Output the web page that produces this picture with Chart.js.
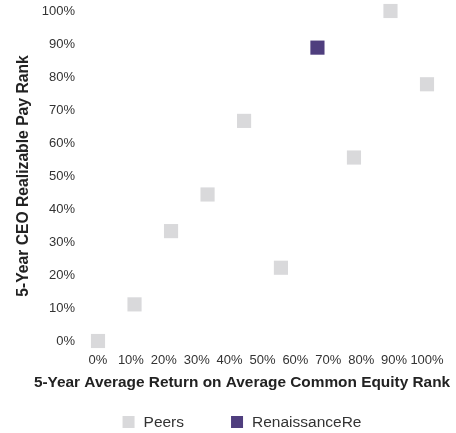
<!DOCTYPE html>
<html>
<head>
<meta charset="utf-8">
<script src="https://cdn.jsdelivr.net/npm/chart.js@4"></script>
<style>
  html, body { margin: 0; padding: 0; background: #fff; }
  #caja { width: 456px; height: 433px; }
</style>
</head>
<body>
<div id="caja"><canvas id="grafico"></canvas></div>
<script>
// rangos en % (retorno sobre capital vs. pago realizable del CEO)
const peersX = [0, 11.1, 22.2, 33.3, 44.4, 55.6, 77.8, 88.9, 100]
const peersY = [0, 11.1, 33.3, 44.4, 66.7, 22.2, 55.6, 100, 77.8]
const renreX = [66.7]
const renreY = [88.9]
const ticksPct = [0, 10, 20, 30, 40, 50, 60, 70, 80, 90, 100]
const tituloX = '5-Year Average Return on Average Common Equity Rank'
const tituloY = '5-Year CEO Realizable Pay Rank'

const gris = '#d9d9db'
const morado = '#4f3e7e'
const fuente = "'Liberation Sans', Arial, Helvetica, sans-serif"

Chart.defaults.font.family = fuente
Chart.defaults.color = '#333'

const puntos = (xs, ys) => xs.map((x, i) => ({ x: x, y: ys[i] }))

// el centro del titulo X y de la leyenda (no coincide con el del area)
const centroAbajo = 242

// titulo del eje X a ancho completo (el de Chart.js se comprime al ancho del area)
const tituloAbajo = {
    id: 'tituloAbajo',
    afterDraw(chart) {
        const ctx = chart.ctx
        ctx.save()
        ctx.font = "bold 15.4px " + fuente
        ctx.fillStyle = '#222'
        ctx.textAlign = 'center'
        ctx.textBaseline = 'middle'
        ctx.fillText(tituloX, centroAbajo, chart.height - 50)
        ctx.restore()
    }
}

// leyenda con cuadros, a partir de los datasets
const leyenda = {
    id: 'leyenda',
    afterDraw(chart) {
        const ctx = chart.ctx
        const caja = 12, hueco = 9, separa = 47
        const y = chart.height - 11
        ctx.save()
        ctx.font = "15.5px " + fuente
        ctx.textBaseline = 'middle'
        let items = chart.data.datasets.map(d => ({ texto: d.label, color: d.backgroundColor, ancho: ctx.measureText(d.label).width }))
        let total = items.reduce((s, it) => s + caja + hueco + it.ancho, 0) + separa * (items.length - 1)
        let x = centroAbajo - total / 2
        items.forEach(it => {
            ctx.fillStyle = it.color
            ctx.fillRect(x, y - caja / 2, caja, caja)
            ctx.fillStyle = '#333'
            ctx.fillText(it.texto, x + caja + hueco, y + 1)
            x += caja + hueco + it.ancho + separa
        })
        ctx.restore()
    }
}

let grafico = document.getElementById("grafico")

let miGrafico = new Chart(grafico, {
    type: 'scatter',
    data: {
        datasets: [{
            label: 'Peers',
            data: puntos(peersX, peersY),
            pointStyle: 'rect',
            pointRadius: 10,
            pointHoverRadius: 10,
            backgroundColor: gris,
            borderColor: gris,
            borderWidth: 0,
            clip: false
        }, {
            label: 'RenaissanceRe',
            data: puntos(renreX, renreY),
            pointStyle: 'rect',
            pointRadius: 10,
            pointHoverRadius: 10,
            backgroundColor: morado,
            borderColor: morado,
            borderWidth: 0,
            clip: false
        }]
    },
    plugins: [tituloAbajo, leyenda],
    options: {
        responsive: true,
        maintainAspectRatio: false,
        animation: false,
        layout: { autoPadding: false, padding: { top: 3, right: 12, bottom: 66, left: 14 } },
        plugins: {
            tooltip: { enabled: false },
            legend: { display: false }
        },
        scales: {
            x: {
                type: 'linear',
                min: 0,
                max: 100,
                grid: { display: false, drawTicks: false },
                border: { display: false },
                afterBuildTicks: (eje) => { eje.ticks = ticksPct.map(v => ({ value: v })) },
                // alto fijo del eje y margen derecho para la etiqueta 100%
                afterFit: (eje) => { eje.height = 26; eje.paddingLeft = 8; eje.paddingRight = 29 },
                ticks: {
                    padding: 12,
                    maxRotation: 0,
                    autoSkip: false,
                    color: '#333',
                    font: { size: 13 },
                    callback: (v) => v + '%'
                }
            },
            y: {
                type: 'linear',
                min: 0,
                max: 100,
                grid: { display: false, drawTicks: false },
                border: { display: false },
                afterBuildTicks: (eje) => { eje.ticks = ticksPct.map(v => ({ value: v })) },
                afterFit: (eje) => { eje.width = 84; eje.paddingTop = 11; eje.paddingBottom = 8 },
                ticks: {
                    padding: 23,
                    color: '#333',
                    font: { size: 13 },
                    callback: (v) => v + '%'
                },
                title: {
                    display: true,
                    text: tituloY,
                    color: '#222',
                    font: { size: 15.7, weight: 'bold' },
                    padding: { top: 0, bottom: 10 }
                }
            }
        }
    }
})
</script>
</body>
</html>
